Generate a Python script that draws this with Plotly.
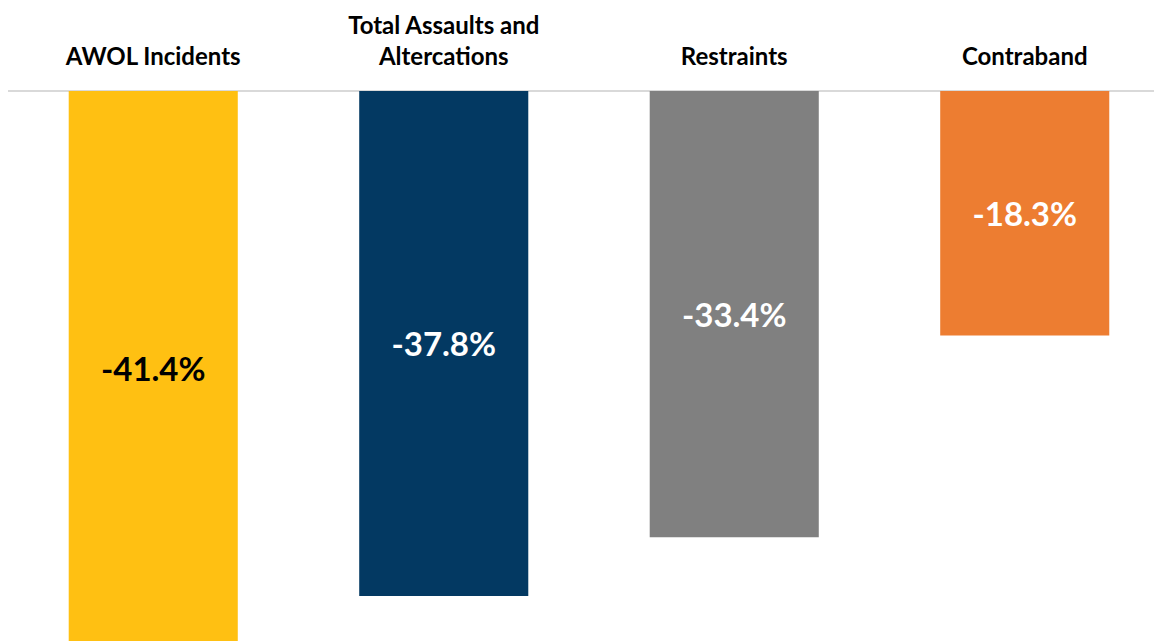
import plotly.graph_objects as go

categories = ["AWOL Incidents", "Total Assaults and<br>Altercations", "Restraints", "Contraband"]
values = [-41.4, -37.8, -33.4, -18.3]
labels = ["-41.4%", "-37.8%", "-33.4%", "-18.3%"]
colors = ["#FFC012", "#033962", "#808080", "#ED7D31"]
label_colors = ["#000000", "#FFFFFF", "#FFFFFF", "#FFFFFF"]

fig = go.Figure(go.Bar(
    x=categories,
    y=values,
    marker=dict(color=colors, line=dict(width=0)),
    text=labels,
    textposition="inside",
    insidetextanchor="middle",
    textangle=0,
    textfont=dict(family="Lato", size=33, color=label_colors, weight="bold"),
    hoverinfo="skip",
    cliponaxis=True,
))

fig.update_layout(
    width=1154, height=633,
    margin=dict(l=0, r=0, t=83, b=0),
    paper_bgcolor="white", plot_bgcolor="white",
    bargap=0.418,
    showlegend=False,
)
fig.update_xaxes(
    side="top", type="category", range=[-0.5, 3.4725],
    showgrid=False, showline=False, ticks="outside", ticklen=15, tickcolor="rgba(0,0,0,0)",
    tickfont=dict(family="Lato", size=24, color="#000000", weight="bold"),
)
fig.update_yaxes(
    range=[-41.17, 0], showgrid=False, showticklabels=False,
    zeroline=True, zerolinecolor="#D9D9D9", zerolinewidth=2, showline=False,
)

fig.write_html("out.html")
